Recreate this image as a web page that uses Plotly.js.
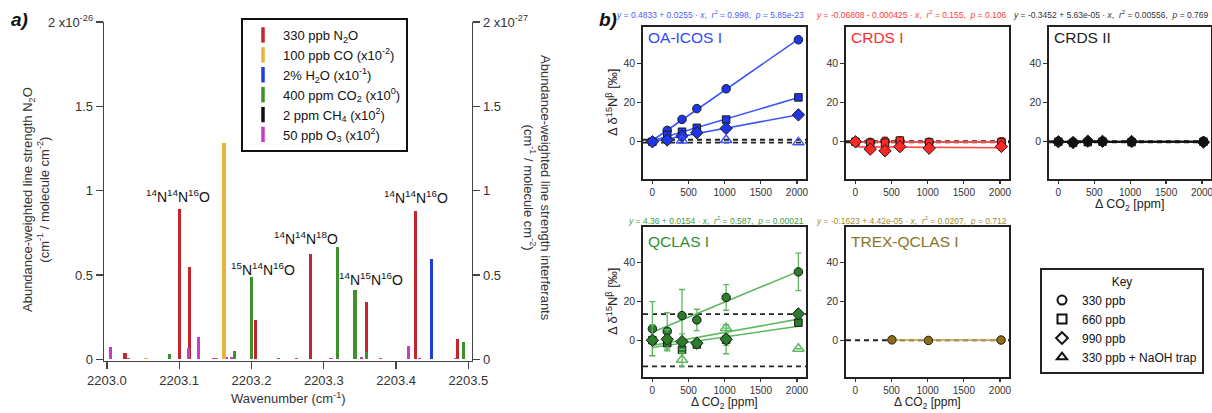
<!DOCTYPE html>
<html><head><meta charset="utf-8">
<script src="https://cdn.plot.ly/plotly-3.0.1.min.js"></script>
<style>html,body{margin:0;padding:0;background:#fff}#chart{width:1212px;height:413px}</style>
</head><body><div id="chart"></div>
<script>
// ================= Panel a data (wavenumber, line strength) =================
const n2oX = [2203.025, 2203.1004, 2203.1146, 2203.2054, 2203.2815, 2203.3595, 2203.4273, 2203.485];
const n2oY = [0.04, 0.894, 0.548, 0.235, 0.623, 0.34, 0.878, 0.119];
const coX = [2203.054, 2203.162];
const coY = [0.006, 1.28];
const h2oX = [2203.449];
const h2oY = [0.593];
const co2X = [2203.087, 2203.177, 2203.2004, 2203.319, 2203.343, 2203.3586, 2203.493];
const co2Y = [0.034, 0.049, 0.488, 0.663, 0.41, 0.045, 0.105];
const ch4X = [2203.262];
const ch4Y = [0.004];
const o3X = [2203.0045, 2203.030, 2203.113, 2203.127, 2203.147, 2203.152, 2203.165, 2203.172, 2203.237, 2203.262, 2203.310, 2203.352, 2203.378, 2203.4168, 2203.432, 2203.482];
const o3Y = [0.073, 0.006, 0.067, 0.132, 0.006, 0.006, 0.012, 0.015, 0.01, 0.006, 0.006, 0.015, 0.006, 0.077, 0.006, 0.006];
const gasNames = ['330 ppb N<sub>2</sub>O', '100 ppb CO (x10<sup>-2</sup>)', '2% H<sub>2</sub>O (x10<sup>-1</sup>)',
  '400 ppm CO<sub>2</sub> (x10<sup>0</sup>)', '2 ppm CH<sub>4</sub> (x10<sup>2</sup>)', '50 ppb O<sub>3</sub> (x10<sup>2</sup>)'];
const wnTicks = [2203.0, 2203.1, 2203.2, 2203.3, 2203.4, 2203.5];
const wnTickText = ['2203.0', '2203.1', '2203.2', '2203.3', '2203.4', '2203.5'];
const strengthTicks = [0, 0.5, 1, 1.5, 2];
const leftTickText = ['0', '0.5', '1', '1.5', '2 x10<sup>-26</sup>'];
const rightTickText = ['0', '0.5', '1', '1.5', '2 x10<sup>-27</sup>'];
const isoLabels = ['<sup>14</sup>N<sup>14</sup>N<sup>16</sup>O', '<sup>15</sup>N<sup>14</sup>N<sup>16</sup>O',
  '<sup>14</sup>N<sup>14</sup>N<sup>18</sup>O', '<sup>14</sup>N<sup>15</sup>N<sup>16</sup>O', '<sup>14</sup>N<sup>14</sup>N<sup>16</sup>O'];
const isoLabelX = [2203.098, 2203.216, 2203.275, 2203.365, 2203.428];
const isoLabelY = [0.969, 0.538, 0.72, 0.479, 0.963];

// ================= Panel b data (ΔCO2 ppm, Δδ15Nβ ‰) =================
const co2Add = [0, 205, 410, 615, 1020, 2020];
const trapX = [410, 1020, 2020];
// OA-ICOS I
const oaCircle = [0, 5.8, 11.4, 16.9, 27.0, 52.0];
const oaSquare = [0, 3.4, 5.1, 7.1, 11.3, 22.6];
const oaDiamond = [0, 0.9, 2.9, 4.6, 6.8, 13.7];
const oaTrap = [0.6, 0.9, -0.3];
const oaRef = [1.0, -0.5];
// CRDS I
const cr1Circle = [0, -0.3, 0.2, 0.4, -0.2, 0];
const cr1Square = [0, -0.6, -0.5, 0.6, -0.4, -0.3];
const cr1Diamond = [0, -3.8, -4.6, -2.5, -3.3, -2.4];
const cr1Err = [0.8, 1.0, 2.0, 1.5, 1.5, 2.0];
const cr1Ref = [0.25, -0.25];
// CRDS II
const cr2Circle = [0, -0.3, 0.2, 0.1, 0, 0.3];
const cr2Square = [0, -0.6, -0.2, 0, -0.2, 0];
const cr2Diamond = [0, -0.4, 0.3, 0.2, 0.1, -0.2];
const cr2Err = [0.8, 0.8, 0.8, 0.8, 0.8, 0.8];
const cr2Ref = [0.25, -0.25];
// QCLAS I
const qcCircle = [5.9, 4.6, 12.7, 10.5, 22.1, 35.3];
const qcCircleErr = [14, 9.7, 13.5, 5.5, 6.6, 9.7];
const qcSquare = [0, -1.5, -4.9, -2.2, 0.3, 9.1];
const qcSquareErr = [0, 4, 2, 1.5, 3, 1];
const qcDiamond = [0, 0.5, -0.7, -1.5, 0.5, 13.6];
const qcDiamondErr = [8, 5, 4, 2, 7.5, 1];
const qcTrap = [-10.1, 6.3, -4.4];
const qcTrapErr = [3.5, 0, 0];
const qcRef = [13.5, -13.5];
// TREX-QCLAS I
const trexX = [505, 1010, 2015];
const trexCircle = [0.2, -0.1, 0.1];
const trexRef = [0];
const co2Ticks = [0, 500, 1000, 1500, 2000];
const deltaTicks = [0, 20, 40];
const panelNames = ['OA-ICOS I', 'CRDS I', 'CRDS II', 'QCLAS I', 'TREX-QCLAS I'];
const panelEqs = [
  '<i>y</i> = 0.4833 + 0.0255 · <i>x</i>,  <i>r</i><sup>2</sup> = 0.998,  <i>p</i> = 5.85e-23',
  '<i>y</i> = -0.06808 - 0.000425 · <i>x</i>,  <i>r</i><sup>2</sup> = 0.155,  <i>p</i> = 0.106',
  '<i>y</i> = -0.3452 + 5.63e-05 · <i>x</i>,  <i>r</i><sup>2</sup> = 0.00556,  <i>p</i> = 0.769',
  '<i>y</i> = 4.36 + 0.0154 · <i>x</i>,  <i>r</i><sup>2</sup> = 0.587,  <i>p</i> = 0.00021',
  '<i>y</i> = -0.1623 + 4.42e-05 · <i>x</i>,  <i>r</i><sup>2</sup> = 0.0207,  <i>p</i> = 0.712'];
const keyNames = ['330 ppb', '660 ppb', '990 ppb', '330 ppb + NaOH trap'];

// ================= build =================
const W = 1212, H = 413;
const PX = p => p / W, PY = p => 1 - p / H;
const FONT = 'Liberation Sans, Arial, Helvetica, sans-serif';
const traces = [];

// ---- panel a bars ----
const gasColors = ['#c3262c', '#eab33b', '#1d3fd8', '#3f912d', '#111111', '#c63cc6'];
const gasX = [n2oX, coX, h2oX, co2X, ch4X, o3X];
const gasY = [n2oY, coY, h2oY, co2Y, ch4Y, o3Y];
const gasAxis = ['y', 'y2', 'y2', 'y2', 'y2', 'y2'];
const drawOrder = [5, 4, 0, 1, 2, 3];
drawOrder.forEach(i => {
  traces.push({type: 'bar', x: gasX[i], y: gasY[i], width: gasX[i].map(() => 0.0045),
    marker: {color: gasColors[i], line: {width: 0}}, xaxis: 'x', yaxis: gasAxis[i],
    showlegend: false, hoverinfo: 'skip'});
});
gasNames.forEach((nm, i) => {
  traces.push({type: 'scatter', mode: 'markers', x: [null], y: [null], name: nm,
    marker: {symbol: 'line-ns', size: 11, color: gasColors[i], line: {width: 3.5, color: gasColors[i]}},
    xaxis: 'x', yaxis: 'y', legend: 'legend', showlegend: true});
});

// ---- panel b ----
function fit(x, y) {
  const n = x.length; let mx = 0, my = 0;
  for (let i = 0; i < n; i++) { mx += x[i]; my += y[i]; }
  mx /= n; my /= n;
  let sxy = 0, sxx = 0;
  for (let i = 0; i < n; i++) { sxy += (x[i] - mx) * (y[i] - my); sxx += (x[i] - mx) ** 2; }
  const b = sxy / sxx; return [my - b * mx, b];
}
const cols = [[643, 806], [846, 1009], [1049, 1211]];
const rows = [[27, 179], [227, 377]];
const panelPos = [[0, 0], [1, 0], [2, 0], [0, 1], [1, 1]];
const panelText = ['#3346ff', '#ff2b2b', '#222222', '#2f8f2f', '#8a7426'];
const panelEqCol = ['#4d5bff', '#ff3a3a', '#333333', '#3d9d3d', '#a08c32'];
const panelFill = ['#1f35e8', '#ff2626', '#111111', '#2b7d2b', '#8b6d12'];
const panelLine = ['#3b55ff', '#ff4a4a', '#111111', '#5fb85f', '#c4a44a'];
const panelSeries = [
  {x: co2Add, s: [oaCircle, oaSquare, oaDiamond], err: null, trap: oaTrap, trapErr: null, ref: oaRef},
  {x: co2Add, s: [cr1Circle, cr1Square, cr1Diamond], err: [cr1Err, cr1Err, cr1Err], trap: null, ref: cr1Ref},
  {x: co2Add, s: [cr2Circle, cr2Square, cr2Diamond], err: [cr2Err, cr2Err, cr2Err], trap: null, ref: cr2Ref},
  {x: co2Add, s: [qcCircle, qcSquare, qcDiamond], err: [qcCircleErr, qcSquareErr, qcDiamondErr], trap: qcTrap, trapErr: qcTrapErr, ref: qcRef},
  {x: trexX, s: [trexCircle], err: null, trap: null, ref: trexRef}];
const symbols = ['circle', 'square', 'diamond'];
const symSize = [8.5, 7.5, 9.5];

const layout = {
  width: W, height: H, margin: {l: 0, r: 0, t: 0, b: 0},
  paper_bgcolor: '#fff', plot_bgcolor: 'rgba(0,0,0,0)',
  font: {family: FONT, color: '#222'}, barmode: 'overlay', bargap: 0,
  showlegend: true, annotations: [], shapes: [],
  xaxis: {domain: [PX(104), PX(472)], range: [2202.996, 2203.505], tickvals: wnTicks, ticktext: wnTickText,
    ticks: 'outside', ticklen: 7, tickwidth: 1.3, tickcolor: '#444', showline: true, linecolor: '#444', linewidth: 1.4,
    showgrid: false, zeroline: false, anchor: 'y', tickfont: {size: 13, color: '#333'}},
  yaxis: {domain: [PY(361), PY(22)], range: [-0.01, 2], tickvals: strengthTicks, ticktext: leftTickText,
    ticks: 'outside', ticklen: 7, tickwidth: 1.3, tickcolor: '#444', showline: true, linecolor: '#444', linewidth: 1.4,
    showgrid: false, zeroline: false, anchor: 'x', tickfont: {size: 13, color: '#333'}},
  yaxis2: {overlaying: 'y', side: 'right', range: [-0.01, 2], tickvals: strengthTicks, ticktext: rightTickText,
    ticks: 'outside', ticklen: 7, tickwidth: 1.3, tickcolor: '#444', showline: true, linecolor: '#444', linewidth: 1.4,
    showgrid: false, zeroline: false, anchor: 'x', tickfont: {size: 13, color: '#333'}},
  legend: {x: PX(241), y: PY(18), xanchor: 'left', yanchor: 'top', bgcolor: '#fff', bordercolor: '#111', borderwidth: 2,
    font: {size: 13, color: '#111', family: FONT}, itemwidth: 30, tracegroupgap: 0},
  legend2: {x: PX(1040), y: PY(268), xanchor: 'left', yanchor: 'top', bgcolor: '#fff', bordercolor: '#222', borderwidth: 2,
    font: {size: 12, color: '#111', family: FONT}, itemwidth: 30, tracegroupgap: 0,
    title: {text: 'Key', side: 'top center', font: {size: 12, color: '#111'}}}
};

function note(o) {
  return Object.assign({xref: 'paper', yref: 'paper', showarrow: false, xanchor: 'center', yanchor: 'middle'}, o);
}

panelSeries.forEach((P, k) => {
  const xa = 'x' + (k + 2), ya = 'y' + (k + 3);
  const [ci, ri] = panelPos[k];
  layout['xaxis' + (k + 2)] = {domain: [PX(cols[ci][0]), PX(cols[ci][1])], range: [-130, 2125], tickvals: co2Ticks,
    ticks: 'outside', ticklen: 3, tickwidth: 1.2, tickcolor: '#333', showline: true, mirror: true, linecolor: '#222',
    linewidth: 1.8, showgrid: false, zeroline: false, anchor: ya, tickfont: {size: 10, color: '#333'},
    ticklabeloverflow: 'allow'};
  layout['yaxis' + (k + 3)] = {domain: [PY(rows[ri][1]), PY(rows[ri][0])], range: [-19, 58.5], tickvals: deltaTicks,
    ticks: 'outside', ticklen: 4, tickwidth: 1.2, tickcolor: '#333', showline: true, mirror: true, linecolor: '#222',
    linewidth: 1.8, showgrid: false, zeroline: false, anchor: xa, tickfont: {size: 10.5, color: '#333'}};
  P.ref.forEach(v => layout.shapes.push({type: 'line', xref: xa + ' domain', x0: 0, x1: 1, yref: ya, y0: v, y1: v,
    line: {color: '#222', width: 1.8, dash: '5px,4px'}, layer: 'below'}));
  P.s.forEach(ys => {
    const [a, b] = fit(P.x, ys);
    const x0 = Math.min(...P.x), x1 = Math.max(...P.x);
    traces.push({type: 'scatter', mode: 'lines', x: [x0, x1], y: [a + b * x0, a + b * x1], xaxis: xa, yaxis: ya,
      line: {color: panelLine[k], width: 1.6}, showlegend: false, hoverinfo: 'skip'});
  });
  P.s.forEach((ys, j) => {
    const t = {type: 'scatter', mode: 'markers', x: P.x, y: ys, xaxis: xa, yaxis: ya, showlegend: false,
      marker: {symbol: symbols[j], size: symSize[j], color: panelFill[k], line: {color: '#1a1a1a', width: 1}}};
    if (P.err) t.error_y = {type: 'data', array: P.err[j], visible: true, color: panelLine[k], thickness: 1.3, width: 3};
    traces.push(t);
  });
  if (P.trap) {
    const t = {type: 'scatter', mode: 'markers', x: trapX, y: P.trap, xaxis: xa, yaxis: ya, showlegend: false,
      marker: {symbol: 'triangle-up-open', size: 10, color: panelLine[k], line: {color: panelLine[k], width: 1.4}}};
    if (P.trapErr) t.error_y = {type: 'data', array: P.trapErr, visible: true, color: panelLine[k], thickness: 1.3, width: 3};
    traces.push(t);
  }
  layout.annotations.push(note({x: PX(cols[ci][0] + 3), y: PY(rows[ri][0] + (ri ? 14 : 10)),
    xanchor: 'left', text: panelNames[k], font: {size: 15.5, color: panelText[k]}}));
  layout.annotations.push(note({x: PX(cols[ci][1]), y: PY(ri ? 220 : 14),
    xanchor: 'right', text: panelEqs[k], font: {size: 8.5, color: panelEqCol[k]}}));
});
const keySyms = ['circle-open', 'square-open', 'diamond-open', 'triangle-up-open'];
keyNames.forEach((nm, i) => traces.push({type: 'scatter', mode: 'markers', x: [null], y: [null], name: nm,
  xaxis: 'x2', yaxis: 'y3', legend: 'legend2', showlegend: true,
  marker: {symbol: keySyms[i], size: 9, color: '#111', line: {color: '#111', width: 2}}}));

// ---- text annotations ----
const A = layout.annotations;
isoLabels.forEach((t, i) => A.push({xref: 'x', yref: 'y', x: isoLabelX[i], y: isoLabelY[i], text: t, showarrow: false,
  xanchor: 'center', yanchor: 'middle', font: {size: 14, color: '#111'}}));
A.push(note({x: PX(9), y: PY(20), xanchor: 'left', text: '<b><i>a)</i></b>', font: {size: 19, color: '#111'}}));
A.push(note({x: PX(597), y: PY(20), xanchor: 'left', text: '<b><i>b)</i></b>', font: {size: 19, color: '#111'}}));
A.push(note({x: PX(36), y: PY(200), textangle: -90,
  text: 'Abundance-weighted line strength N<sub>2</sub>O<br>(cm<sup>-1</sup> / molecule cm<sup>-2</sup>)',
  font: {size: 13, color: '#333'}}));
A.push(note({x: PX(537), y: PY(188), textangle: 90,
  text: 'Abundance-weighted line strength interferants<br>(cm<sup>-1</sup> / molecule cm<sup>-2</sup>)',
  font: {size: 13, color: '#333'}}));
A.push(note({x: PX(288), y: PY(398), text: 'Wavenumber (cm<sup>-1</sup>)', font: {size: 13, color: '#333'}}));
[103, 302].forEach(yc => A.push(note({x: PX(612), y: PY(yc), textangle: -90,
  text: 'Δ δ<sup>15</sup>N<sup>β</sup> [‰]', font: {size: 13, color: '#222'}})));
A.push(note({x: PX(1130), y: PY(205), text: 'Δ CO<sub>2</sub> [ppm]', font: {size: 12.5, color: '#222'}}));
[724.5, 927.5].forEach(x => A.push(note({x: PX(x), y: PY(413), yanchor: 'bottom',
  text: 'Δ CO<sub>2</sub> [ppm]', font: {size: 12, color: '#222'}})));

Plotly.newPlot('chart', traces, layout, {staticPlot: true, displayModeBar: false});
</script></body></html>
